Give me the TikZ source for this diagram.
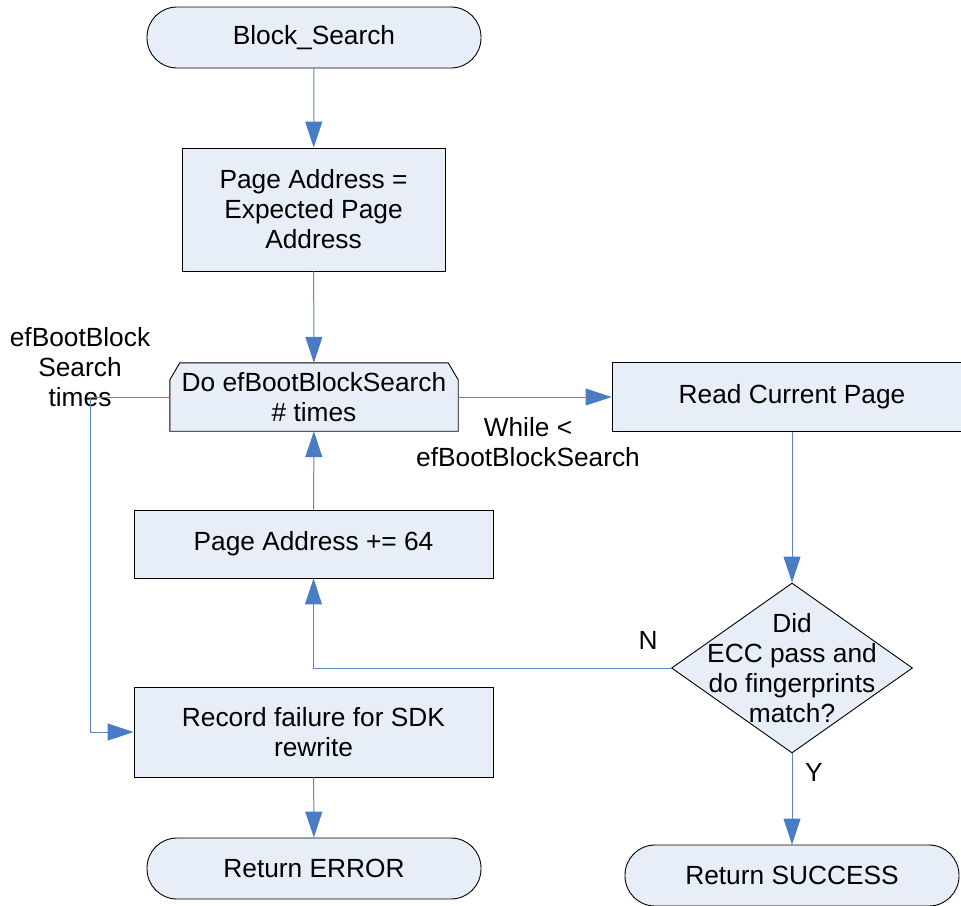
\documentclass[tikz,border=0pt]{standalone}
\usepackage{fontspec}
\setmainfont{Liberation Sans}
\usetikzlibrary{arrows.meta,shapes.geometric,backgrounds}
\definecolor{boxfill}{HTML}{E8EEF8}
\definecolor{linec}{HTML}{5A87C6}
\definecolor{tipc}{HTML}{4A7CC6}
\tikzset{
  base/.style={font=\fontsize{26.3}{30}\selectfont, align=center, inner sep=0pt},
  proc/.style={base, draw=black, line width=0.9pt, fill=boxfill},
  term/.style={proc, rounded corners=30pt},
  conn/.style={draw=linec, line width=1pt},
  arr/.style={conn, -{Triangle[width=17pt,length=26pt,fill=tipc,color=tipc]}},
  lbl/.style={base}
}
\begin{document}
\begin{tikzpicture}[x=1pt,y=-1pt]
\useasboundingbox (0,0) rectangle (961,905);
\clip (0,0) rectangle (961,905);
% nodes
\node[term, minimum width=334pt, minimum height=61pt] (start) at (314,37.5) {Block\_Search};
\node[proc, minimum width=263pt, minimum height=123pt] (init) at (313.5,209.5) {Page Address =\\Expected Page\\Address};
\node[base, minimum width=288pt, minimum height=68pt] (loop) at (314,397) {Do efBootBlockSearch\\\# times};
\begin{scope}[on background layer]
\draw[fill=boxfill, draw=black, line width=0.9pt]
  ([yshift=-17pt]loop.north west) -- ([xshift=10pt]loop.north west)
  -- ([xshift=-10pt]loop.north east) -- ([yshift=-17pt]loop.north east)
  -- (loop.south east) -- (loop.south west) -- cycle;
\end{scope}
\node[proc, minimum width=360pt, minimum height=69pt] (read) at (792,397) {Read Current Page};
\node[proc, minimum width=359pt, minimum height=68pt] (inc) at (313.5,544) {Page Address += 64};
\node[draw=black, fill=boxfill, line width=0.9pt, diamond, inner sep=0pt, minimum width=241pt, minimum height=170pt] (dec) at (792,668) {};
\node[base] (dectext) at (792,668) {Did\\ECC pass and\\do fingerprints\\match?};
\node[proc, minimum width=359pt, minimum height=90pt] (rec) at (313.5,732) {Record failure for SDK\\rewrite};
\node[term, minimum width=334pt, minimum height=61pt] (err) at (314,868.5) {Return ERROR};
\node[term, minimum width=334pt, minimum height=61pt] (succ) at (792,875.5) {Return SUCCESS};
% labels
\node[lbl] (lbltimes) at (80,367) {efBootBlock\\Search\\times};
\node[lbl] (lblwhile) at (528,442) {While <\\efBootBlockSearch};
\node[lbl] (lbln) at (648,640) {N};
\node[lbl] (lbly) at (814,772) {Y};
\coordinate (lc) at (90,397);
% connectors
\draw[arr] (start) -- (init);
\draw[arr] (init) -- (loop);
\draw[arr] (loop.east) -- (read.west);
\draw[arr] (read) -- (dec.north);
\draw[arr] (dec.west) -| (inc.south);
\draw[arr] (inc) -- (loop);
\draw[arr] (loop.west) -- (lc) |- (rec.west);
\draw[arr] (rec) -- (err);
\draw[arr] (dec.south) -- (succ);
\end{tikzpicture}
\end{document}
